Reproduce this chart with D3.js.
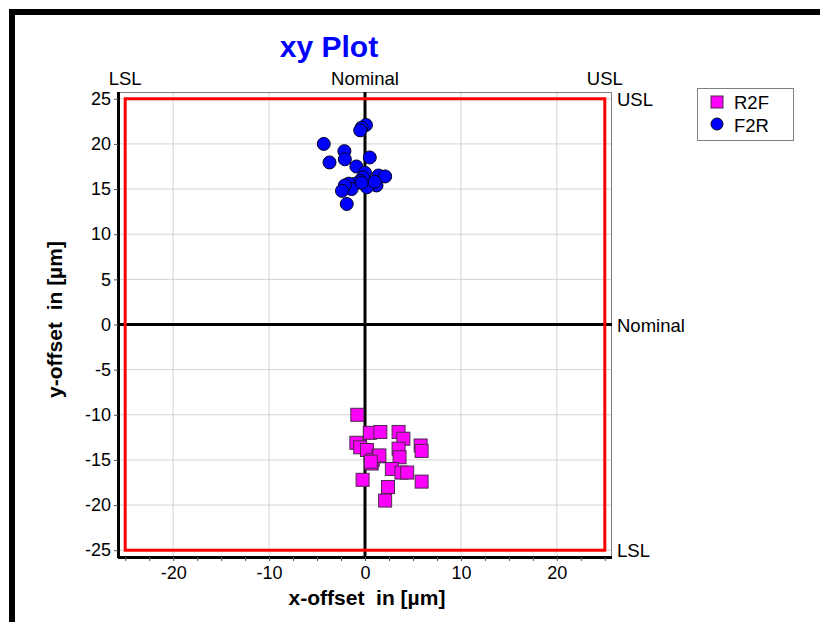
<!DOCTYPE html>
<html>
<head>
<meta charset="utf-8">
<script src="https://cdn.jsdelivr.net/npm/d3@7/dist/d3.min.js"></script>
<style>
  html, body { margin: 0; padding: 0; background: #fff; }
  svg { display: block; font-family: "Liberation Sans", Arial, sans-serif; }
</style>
</head>
<body>
<svg id="chart" width="820" height="622"></svg>
<script>
// Measured offsets, R2F (squares) and F2R (circles), in µm
const r2fX = [-0.8, 0.5, 1.6, 3.5, 4.0, -0.9, -0.5, 0.2, 3.5, 5.8, 5.9, 3.6, 1.4, 0.8, 0.7, 2.8, 3.8, 4.4, -0.25, 5.9, 2.4, 2.1, 1.5, 0.6];
const r2fY = [-10.0, -12.0, -11.9, -11.9, -12.65, -13.1, -13.6, -13.9, -13.75, -13.4, -14.0, -14.7, -14.6, -15.0, -15.4, -16.0, -16.4, -16.4, -17.2, -17.4, -18.0, -19.5, -14.5, -15.2];

const f2rX = [-4.3, -2.15, -2.1, -3.7, 0.1, -0.35, -0.5, 0.5, -0.9, 0.0, -0.2, 1.4, 2.1, 1.2, 0.2, -0.5, -1.0, -1.7, -1.4, -2.1, -2.4, -1.9, -0.35, 1.0];
const f2rY = [20.0, 19.2, 18.3, 17.95, 22.1, 21.8, 21.5, 18.5, 17.5, 16.8, 16.3, 16.5, 16.4, 15.4, 15.2, 15.9, 15.6, 15.6, 15.0, 15.4, 14.8, 13.35, 15.7, 15.8];

const seriesNames = ["R2F", "F2R"];
const seriesColors = ["#ff00ff", "#0000ff"];

const lsl = -25, usl = 25, nominal = 0;
const majorTicks = [-25, -20, -15, -10, -5, 0, 5, 10, 15, 20, 25];
const xLabelTicks = [-20, -10, 0, 10, 20];
const xMinorTicks = d3.range(-25, 25.01, 2.5);
const xGrid = [-20, -10, 10, 20];
const yGrid = [-25, -20, -15, -10, -5, 5, 10, 15, 20, 25];

// Integer labels with a plain hyphen as the minus sign
const fmt = d => (d < 0 ? "-" : "") + Math.abs(d);

const svg = d3.select("#chart");

// Outer frame strokes (top and left)
svg.append("rect").attr("x", 9).attr("y", 9).attr("width", 811).attr("height", 6).attr("fill", "#000");
svg.append("rect").attr("x", 9).attr("y", 9).attr("width", 6).attr("height", 613).attr("fill", "#000");

const pLeft = 118, pRight = 612, pTop = 92, pBottom = 557;
const x = d3.scaleLinear().domain([-25.75, 25.75]).range([pLeft, pRight]);
const y = d3.scaleLinear().domain([-25.75, 25.75]).range([pBottom, pTop]);

const plot = svg.append("g");

// Grid
plot.selectAll("line.gx").data(xGrid).join("line")
  .attr("x1", d => x(d)).attr("x2", d => x(d)).attr("y1", pTop).attr("y2", pBottom)
  .attr("stroke", "#d3d3d3").attr("stroke-width", 1);
plot.selectAll("line.gy").data(yGrid).join("line")
  .attr("y1", d => y(d)).attr("y2", d => y(d)).attr("x1", pLeft).attr("x2", pRight)
  .attr("stroke", "#d3d3d3").attr("stroke-width", 1);

// Plot frame: gray top/right
plot.append("line").attr("x1", pLeft).attr("x2", pRight).attr("y1", pTop + 0.5).attr("y2", pTop + 0.5)
  .attr("stroke", "#808080").attr("stroke-width", 1);
plot.append("line").attr("x1", pRight - 0.5).attr("x2", pRight - 0.5).attr("y1", pTop).attr("y2", pBottom)
  .attr("stroke", "#808080").attr("stroke-width", 1);

// Nominal cross
plot.append("line").attr("x1", x(nominal)).attr("x2", x(nominal)).attr("y1", pTop).attr("y2", pBottom)
  .attr("stroke", "#000").attr("stroke-width", 3);
plot.append("line").attr("x1", pLeft).attr("x2", pRight).attr("y1", y(nominal)).attr("y2", y(nominal))
  .attr("stroke", "#000").attr("stroke-width", 3);

// Tolerance box (LSL / USL)
plot.append("rect")
  .attr("x", x(lsl)).attr("y", y(usl))
  .attr("width", x(usl) - x(lsl)).attr("height", y(lsl) - y(usl))
  .attr("fill", "none").attr("stroke", "#ff0000").attr("stroke-width", 3);

// Axes
const xAxis = d3.axisBottom(x).tickValues(xMinorTicks).tickSize(4)
  .tickFormat(d => xLabelTicks.includes(d) ? fmt(d) : "");
const yAxis = d3.axisLeft(y).tickValues(majorTicks).tickSize(4).tickFormat(fmt);

const gx = svg.append("g").attr("transform", `translate(0,${pBottom})`).call(xAxis);
const gy = svg.append("g").attr("transform", `translate(${pLeft},0)`).call(yAxis);
[gx, gy].forEach(g => {
  g.select(".domain").attr("stroke", "#000").attr("stroke-width", 3);
  g.selectAll(".tick line").attr("stroke", "#555");
  g.selectAll(".tick text").attr("fill", "#000").style("font-size", "18px")
    .style("font-family", "'Liberation Sans', Arial, sans-serif");
});
gx.selectAll(".tick text").attr("dy", "0.95em").attr("y", 5);
gy.selectAll(".tick text").attr("x", -7);
gx.select(".domain").attr("d", `M${pLeft},0.5H${pRight}`);
gy.select(".domain").attr("d", `M0.5,${pTop}V${pBottom + 1}`);

// Data marks
const sq = 13;
svg.append("g").selectAll("rect").data(d3.zip(r2fX, r2fY)).join("rect")
  .attr("x", d => x(d[0]) - sq / 2).attr("y", d => y(d[1]) - sq / 2)
  .attr("width", sq).attr("height", sq)
  .attr("fill", seriesColors[0]).attr("stroke", "#4a2a4a").attr("stroke-width", 1);
svg.append("g").selectAll("circle").data(d3.zip(f2rX, f2rY)).join("circle")
  .attr("cx", d => x(d[0])).attr("cy", d => y(d[1])).attr("r", 6.5)
  .attr("fill", seriesColors[1]).attr("stroke", "#000022").attr("stroke-width", 1);

// Limit labels
const lab = svg.append("g").style("font-size", "18.5px").attr("fill", "#000");
[[lsl, "LSL"], [nominal, "Nominal"], [usl, "USL"]].forEach(([v, t]) => {
  lab.append("text").attr("x", x(v)).attr("y", 85).attr("text-anchor", "middle").text(t);
  lab.append("text").attr("x", pRight + 5).attr("y", y(v) + 7).attr("text-anchor", "start").text(t);
});

// Title
svg.append("text").attr("x", 329).attr("y", 57).attr("text-anchor", "middle")
  .style("font-size", "30px").style("font-weight", "bold").attr("fill", "#0000ff").text("xy Plot");

// Axis titles
svg.append("text").attr("x", x(0) + 2).attr("y", 605).attr("text-anchor", "middle")
  .style("font-size", "21px").style("font-weight", "bold").attr("xml:space", "preserve")
  .text("x-offset  in [µm]");
svg.append("text").attr("transform", `translate(62,${y(0) - 5}) rotate(-90)`).attr("text-anchor", "middle")
  .style("font-size", "21px").style("font-weight", "bold").attr("xml:space", "preserve")
  .text("y-offset  in [µm]");

// Legend
const lg = svg.append("g");
lg.append("rect").attr("x", 697.5).attr("y", 88.5).attr("width", 96).attr("height", 52)
  .attr("fill", "#fff").attr("stroke", "#808080");
lg.append("rect").attr("x", 711).attr("y", 96).attr("width", 12).attr("height", 12)
  .attr("fill", seriesColors[0]).attr("stroke", "#4a2a4a");
lg.append("circle").attr("cx", 717).attr("cy", 124).attr("r", 6)
  .attr("fill", seriesColors[1]).attr("stroke", "#000022");
seriesNames.forEach((n, i) => {
  lg.append("text").attr("x", 734).attr("y", 109 + i * 23).style("font-size", "18.5px").text(n);
});
</script>
</body>
</html>
